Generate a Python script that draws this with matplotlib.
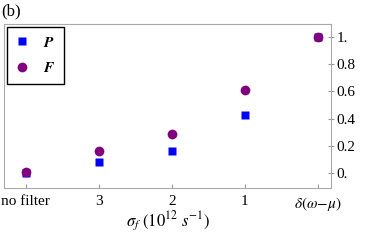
import numpy as np
import matplotlib
matplotlib.use('Agg')
import matplotlib.pyplot as plt

plt.rcParams['font.family'] = ['Liberation Serif', 'DejaVu Serif']
plt.rcParams['mathtext.fontset'] = 'stix'

# data
categories = ['no filter', '3', '2', '1', r'$\delta(\omega\!-\!\mu)$']
P_vals = [0.005, 0.08, 0.16, 0.43, 1.0]
F_vals = [0.01, 0.16, 0.285, 0.61, 1.0]
ytick_vals = [0.0, 0.2, 0.4, 0.6, 0.8, 1.0]
ytick_labels = ['0.', '0.2', '0.4', '0.6', '0.8', '1.']

fig = plt.figure(figsize=(3.82, 2.4), dpi=100)
ax = fig.add_axes([4/382, 1-188.3/240, 327/382, 164.3/240])

x = np.arange(len(categories))
ax.plot(x, P_vals, 's', color='#0000ff', ms=6, mec='none', label=r'$\boldsymbol{P}$', zorder=3)
ax.plot(x, F_vals, 'o', color='#800080', ms=7, mec='none', label=r'$\boldsymbol{F}$', zorder=4)

ax.set_xlim(-0.30, 4.18)
ax.set_ylim(-0.11, 1.094)

ax.set_xticks(x)
ax.set_xticklabels(categories, fontsize=11)
ax.set_yticks(ytick_vals)
ax.set_yticklabels(ytick_labels, fontsize=11)
ax.yaxis.tick_right()
ax.tick_params(axis='x', direction='in', length=3, color='#999999', pad=5)
ax.tick_params(axis='y', direction='inout', length=4, color='#999999', pad=2)
for s in ax.spines.values():
    s.set_color('#aaaaaa')
    s.set_linewidth(0.8)

fig.text(168/382, 1-221/240, r'$\sigma_f\ (10^{12}\ s^{-1})$', fontsize=12,
         ha='center', va='center')

leg = ax.legend(loc='upper left', bbox_to_anchor=(0.01, 0.98), borderaxespad=0,
                fancybox=False, framealpha=1, edgecolor='black', fontsize=11,
                handletextpad=1.0, labelspacing=0.75, borderpad=0.55, handlelength=0.8)
leg.get_frame().set_linewidth(1.0)

fig.text(1/382, 1-11/240, '(b)', fontsize=12, va='center', ha='left')

fig.savefig('out.png', dpi=100)
